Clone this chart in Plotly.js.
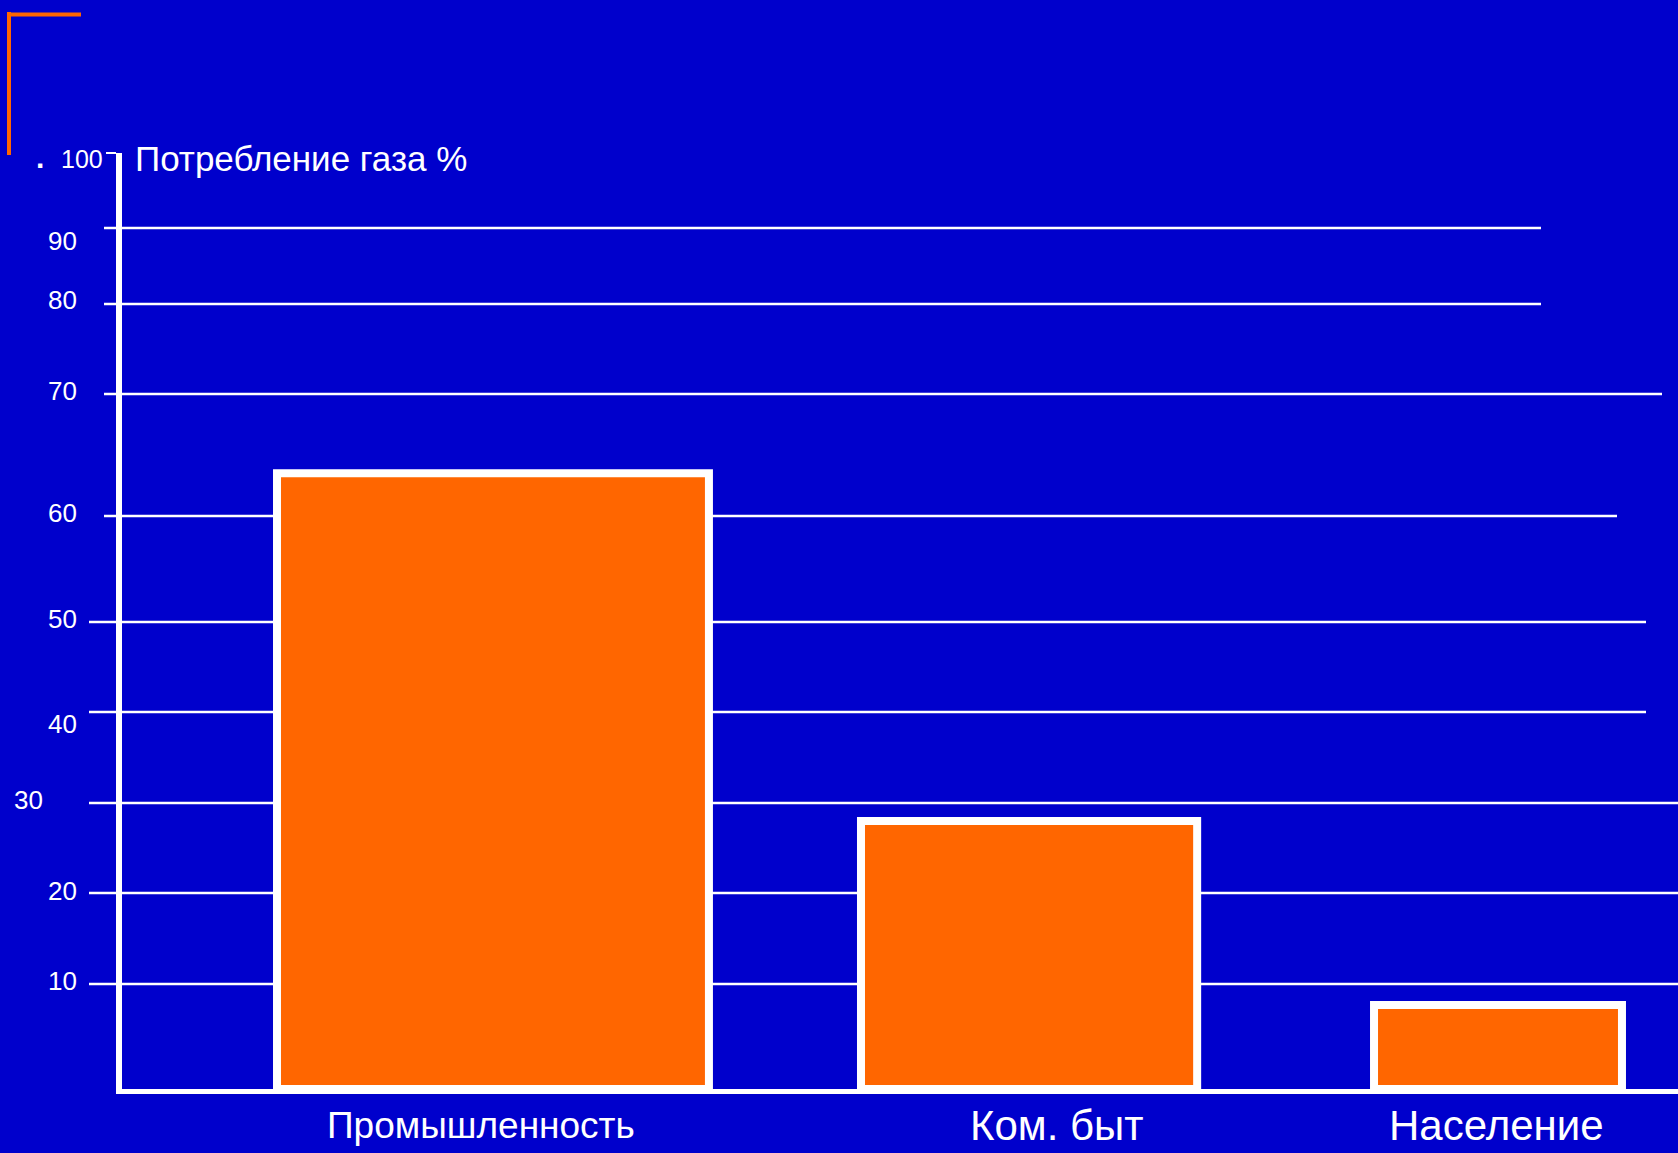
<!DOCTYPE html>
<html>
<head>
<meta charset="utf-8">
<script src="https://cdn.plot.ly/plotly-3.0.1.min.js"></script>
<style>html,body{margin:0;padding:0;background:#0000CC;}#chart{width:1678px;height:1153px;}</style>
</head>
<body>
<div id="chart"></div>
<script>
// ---- data ----
const categories = ['Промышленность', 'Ком. быт', 'Население'];
const gasShare = [63.5, 28, 8];
const tickValues = [0, 10, 20, 30, 40, 50, 60, 70, 80, 90, 100];
const tickLabels = ['', '10', '20', '30', '40', '50', '60', '70', '80', '90', '100'];
const chartTitle = 'Потребление газа %';

// ---- style: the hand-drawn (uneven) value scale of the original slide ----
const tickScalePos = [0, 105, 196, 286, 377, 467, 573, 695, 785, 861, 936];
function warp(v) {
  for (let i = 1; i < tickValues.length; i++) {
    if (v <= tickValues[i]) {
      const t = (v - tickValues[i - 1]) / (tickValues[i] - tickValues[i - 1]);
      return tickScalePos[i - 1] + t * (tickScalePos[i] - tickScalePos[i - 1]);
    }
  }
  return tickScalePos[tickScalePos.length - 1];
}

// ---- style ----
const W = 1678, H = 1153;
const M = {l: 122, r: 0, t: 153, b: 64};
const plotW = W - M.l - M.r, plotH = H - M.t - M.b;
const px2paperX = px => (px - M.l) / plotW;
const px2paperY = py => (H - M.b - py) / plotH;
const BG = '#0000CC', ORANGE = '#FF6600', WHITE = '#FFFFFF';
const FONT = 'Liberation Sans, Arial, sans-serif';

const barWidths = [0.857, 0.667, 0.492];
const barOffsets = [-0.4226, -0.2639, -0.246];
const catLabelShift = [-9, 63, -2];
const catLabelSize = [37, 42, 42];
// gridline horizontal extents (pixels), per tick value 10..90
const gridStart = [89, 89, 89, 89, 89, 104, 104, 104, 104];
const gridEnd = [1678, 1678, 1678, 1646, 1646, 1617, 1662, 1541, 1541];
const labelRight = [0, 79, 79, 45, 79, 79, 79, 79, 79, 79, 105];
const labelDy = [0, -2.6, -1.6, -3.3, 12, -3.4, -3, -2.6, -4, 12.7, 6];

const shapes = [];
for (let i = 1; i <= 9; i++) {
  const yv = warp(tickValues[i]);
  shapes.push({type: 'line', layer: 'below', xref: 'paper', yref: 'y',
    x0: px2paperX(gridStart[i - 1]), x1: px2paperX(gridEnd[i - 1]), y0: yv, y1: yv,
    line: {color: WHITE, width: 2.5}});
}
// orange corner decoration of the slide
shapes.push({type: 'line', xref: 'paper', yref: 'paper', x0: px2paperX(9), x1: px2paperX(9),
  y0: px2paperY(12), y1: px2paperY(155), line: {color: ORANGE, width: 4}});
shapes.push({type: 'line', xref: 'paper', yref: 'paper', x0: px2paperX(7), x1: px2paperX(81),
  y0: px2paperY(14.5), y1: px2paperY(14.5), line: {color: ORANGE, width: 4}});

const annotations = [];
for (let i = 1; i < tickValues.length; i++) {
  annotations.push({xref: 'paper', yref: 'y', x: px2paperX(labelRight[i]), y: warp(tickValues[i]),
    xanchor: 'right', yanchor: 'middle', yshift: -labelDy[i], showarrow: false,
    text: tickLabels[i], font: {family: FONT, size: i === 10 ? 25 : 26, color: WHITE}});
}
categories.forEach((c, i) => {
  annotations.push({xref: 'x', yref: 'y', x: c, y: 0, xanchor: 'center', yanchor: 'middle',
    xshift: catLabelShift[i], yshift: -36, showarrow: false, text: c,
    font: {family: FONT, size: catLabelSize[i], color: WHITE}});
});
annotations.push({xref: 'paper', yref: 'paper', x: px2paperX(133), y: px2paperY(159),
  xanchor: 'left', yanchor: 'middle', showarrow: false, text: chartTitle,
  font: {family: FONT, size: 35, color: WHITE}});
annotations.push({xref: 'paper', yref: 'paper', x: px2paperX(39.5), y: px2paperY(158),
  xanchor: 'center', yanchor: 'middle', showarrow: false, text: '.',
  font: {family: FONT, size: 30, color: WHITE, weight: 'bold'}});

const trace = {
  type: 'bar', x: categories, y: gasShare.map(warp),
  width: barWidths, offset: barOffsets,
  marker: {color: ORANGE, line: {color: WHITE, width: 8}},
  hoverinfo: 'skip'
};

const r0 = -(490 - M.l) / 504;
const layout = {
  width: W, height: H, margin: M,
  paper_bgcolor: BG, plot_bgcolor: BG, showlegend: false,
  xaxis: {type: 'category', range: [r0, r0 + plotW / 504], showgrid: false, zeroline: false,
    showline: true, linecolor: WHITE, linewidth: 5, ticks: '', showticklabels: false, fixedrange: true},
  yaxis: {range: [0, warp(100)], showgrid: false, zeroline: false, showline: true,
    linecolor: WHITE, linewidth: 6, tickmode: 'array', tickvals: [warp(100)], ticks: 'outside',
    ticklen: 10, tickwidth: 2.5, tickcolor: WHITE, showticklabels: false, fixedrange: true},
  shapes: shapes, annotations: annotations
};
Plotly.newPlot('chart', [trace], layout, {displayModeBar: false, staticPlot: true});
</script>
</body>
</html>
